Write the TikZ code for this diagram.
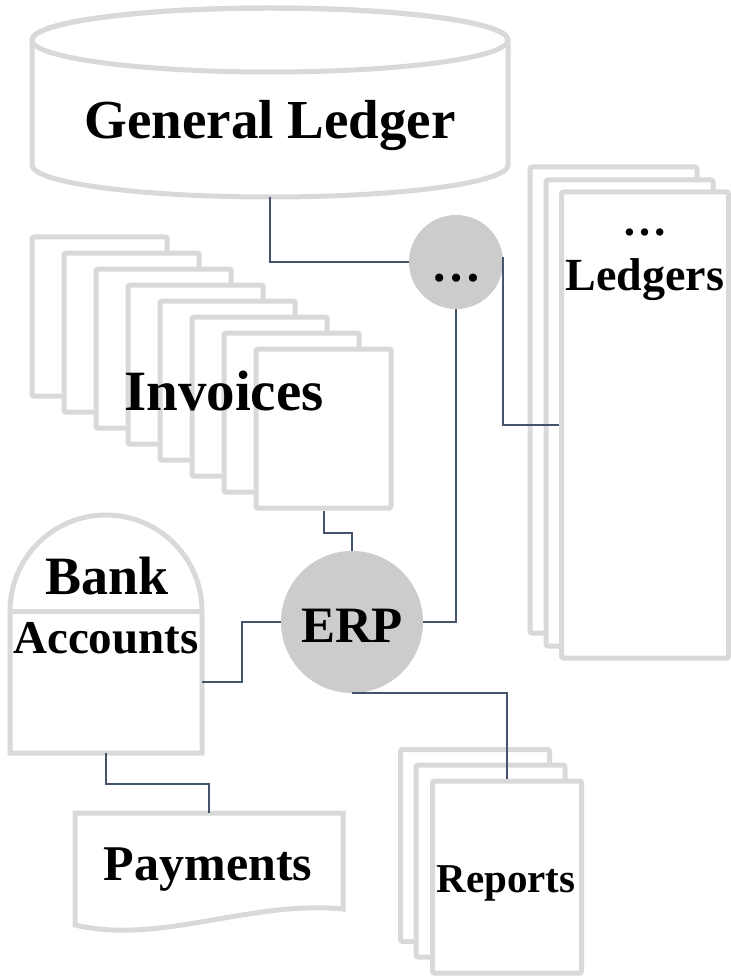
\documentclass[tikz,border=0pt]{standalone}
\usepackage{fontspec}
\setmainfont{Liberation Serif}
\definecolor{lgray}{HTML}{D9D9D9}
\definecolor{cgray}{HTML}{CCCCCC}
\definecolor{navy}{HTML}{44546A}
\tikzset{
  gshape/.style={draw=lgray, line width=5pt, fill=white},
  page/.style={gshape, rounded corners=2pt, inner sep=0pt, rectangle},
  invpage/.style={page, minimum width=135pt, minimum height=159pt},
  ledpage/.style={page, minimum width=167pt, minimum height=466pt},
  reppage/.style={page, minimum width=149pt, minimum height=192pt},
  proc/.style={circle, fill=cgray, inner sep=0pt},
  conn/.style={draw=navy, line width=2pt},
  lbl/.style={anchor=base, inner sep=0pt, font=\bfseries},
  ghost/.style={inner sep=0pt, rectangle}
}
\newcommand{\fs}[1]{\fontsize{#1}{#1}\selectfont}
\begin{document}
\begin{tikzpicture}[x=1pt,y=-1pt]
\useasboundingbox (0,0) rectangle (730,976);

% General Ledger cylinder
\path[gshape] (32,40) -- (32,165) arc[start angle=180, end angle=0, x radius=238, y radius=32]
  -- (508,40) arc[start angle=0, end angle=-180, x radius=238, y radius=32] -- cycle;
\draw[draw=lgray, line width=5pt] (270,40) ellipse [x radius=238, y radius=32];
\coordinate (glB) at (270,197);
\node[lbl] (gltxt) at (270,139) {\fs{55}General Ledger};

% Invoices stack
\foreach \i in {0,...,7} {
  \node[invpage] (inv\i) at ({99.5+32*\i},{316.5+16*\i}) {};
}
\node[lbl] (invtxt) at (224,410) {\fs{57}Invoices};

% Ledgers stack
\node[ledpage] (led1) at (613.5,400) {};
\node[ledpage] (led2) at (629.5,413) {};
\node[ledpage] (led3) at (645,425) {};
\node[lbl] (leddots) at (645,236) {\fs{45}\ldots};
\node[lbl] (ledtxt) at (645,290) {\fs{46}Ledgers};

% dots process
\node[proc, minimum size=94pt] (dots) at (456,262) {};
\node[lbl] (dotstxt) at (456,281) {\fs{50}\ldots};

% ERP process
\node[proc, minimum size=142pt] (erp) at (352,622) {};
\node[lbl] (erptxt) at (352,642) {\fs{51}ERP};

% Bank Accounts
\path[gshape] (10,753) -- (10,611) arc[start angle=180, end angle=360, radius=96] -- (202,753) -- cycle;
\draw[draw=lgray, line width=5pt] (10,611) -- (202,611);
\node[ghost, minimum width=192pt, minimum height=142pt] (bank) at (106,682) {};
\node[lbl] (banktxt) at (107,594) {\fs{54}Bank};
\node[lbl] (acctxt) at (106,653) {\fs{47}Accounts};

% Payments document
\path[gshape] (75,813) -- (343,813) -- (343,909) .. controls (250,900) and (160,945) .. (75,925) -- cycle;
\node[ghost, minimum width=268pt, minimum height=96pt] (pay) at (209,861) {};
\node[lbl] (paytxt) at (208,880) {\fs{50}Payments};

% Reports stack
\node[reppage] (rep1) at (475,845.5) {};
\node[reppage] (rep2) at (490.5,861) {};
\node[reppage] (rep3) at (507,877) {};
\node[lbl] (reptxt) at (506,892) {\fs{41}Reports};

% Connectors
\draw[conn] (glB) |- (dots.west);
\draw[conn] ([yshift=5pt]dots.east) |- (led3.west);
\draw[conn] (dots.south) |- (erp.east);
\draw[conn] (inv7.south) -- ++(0,22) -| (erp.north);
\draw[conn] (bank.east) -- ++(40,0) |- (erp.west);
\draw[conn] (bank.south) -- ++(0,31) -| (pay.north);
\draw[conn] (erp.south) -| (rep3.north);
\end{tikzpicture}
\end{document}
